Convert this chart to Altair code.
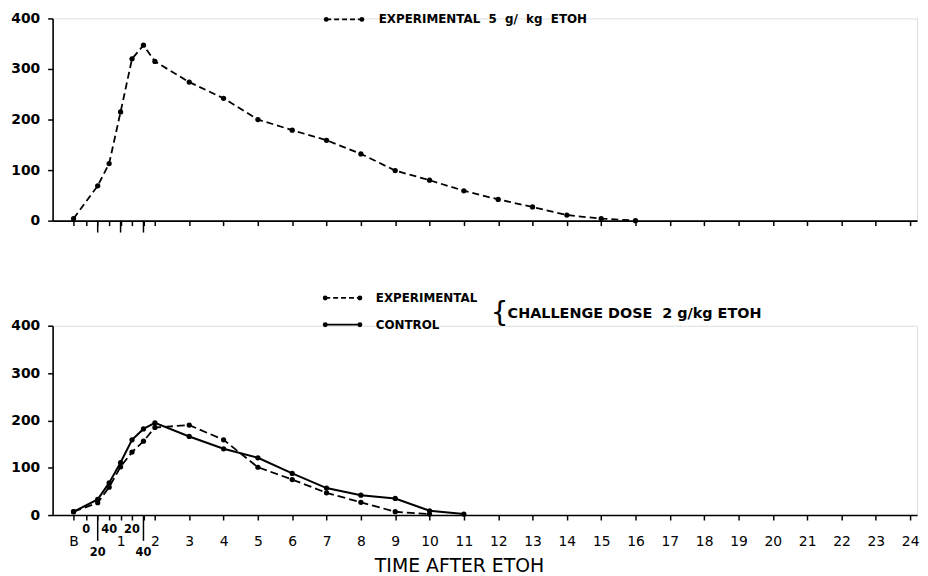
import altair as alt
import pandas as pd

B = -0.37  # baseline sample, drawn just before time 0 (hours)

# ---- top panel: experimental, 5 g/kg ETOH ----
top_time = [B, 1/3, 2/3, 1, 4/3, 5/3, 2, 3, 4, 5, 6, 7, 8, 9, 10, 11, 12, 13, 14, 15, 16]
top_value = [4, 69, 113, 215, 320, 347, 315, 274, 242, 200, 179, 159, 132, 99, 80, 59, 42, 27, 11, 4, 0]

# ---- bottom panel: challenge dose 2 g/kg ETOH ----
exp_time = [B, 1/3, 2/3, 1, 4/3, 5/3, 2, 3, 4, 5, 6, 7, 8, 9, 10]
exp_value = [7, 26, 59, 102, 133, 156, 185, 190, 159, 101, 75, 47, 27, 7, 2]
ctl_time = [B, 1/3, 2/3, 1, 4/3, 5/3, 2, 3, 4, 5, 6, 7, 8, 9, 10, 11]
ctl_value = [7, 33, 68, 111, 159, 182, 195, 166, 140, 121, 88, 57, 42, 35, 9, 2]

# ---- axis ticks ----
tick_values = [B, 0, 1/3, 2/3, 1, 4/3, 5/3] + list(range(2, 25))
tick_labels = ["B", "0", "20", "40", "1", "20", "40"] + [str(h) for h in range(2, 25)]
tick_level = ["mid", "up", "down", "up", "mid", "up", "down"] + ["mid"] * 23
long_ticks_top = [1/3, 1, 5/3]
long_ticks_bottom = [1/3, 5/3]
y_ticks = [0, 100, 200, 300, 400]

FONT = "DejaVu Sans"
W = 872
H_TOP = 204
H_BOT = 191

xscale = alt.Scale(domain=[-0.98, 24.2], nice=False, zero=False)
yscale = alt.Scale(domain=[0, 400], nice=False, zero=True)

mid_expr = " : ".join(
    f"abs(datum.value - ({v})) < 0.01 ? '{lab}'"
    for v, lab, lev in zip(tick_values, tick_labels, tick_level) if lev == "mid"
) + " : ''"

common_axis = dict(
    values=tick_values, grid=False, tickSize=5, tickColor="black", tickWidth=1.5,
    domainColor="black", domainWidth=1.6,
)

xaxis_top = alt.Axis(labels=False, title=None, **common_axis)
xaxis_bot = alt.Axis(
    labelExpr=mid_expr, labelFont=FONT, labelFontSize=14, labelColor="black",
    labelPadding=15, labelOverlap=False, labelFlush=False,
    title="TIME AFTER ETOH", titleFont=FONT, titleFontSize=19, titleFontWeight="normal",
    titleColor="black", titleX=410, titleY=57, titleBaseline="alphabetic", titleAlign="center",
    **common_axis,
)


def yaxis():
    return alt.Axis(values=y_ticks, title=None, grid=False, labelFont=FONT,
                    labelFontWeight="bold", labelFontSize=14, labelColor="black",
                    labelPadding=8, tickSize=5, tickColor="black", tickWidth=1.5,
                    domainColor="black", domainWidth=1.6)


def X(axis):
    return alt.X("t:Q", scale=xscale, axis=axis)


def Y():
    return alt.Y("v:Q", scale=yscale, axis=yaxis())


one = pd.DataFrame({"k": [0]})


def sample(x1, x2, y, dash=None):
    kw = {"strokeDash": dash} if dash else {}
    base = alt.Chart(one)
    rule = base.mark_rule(color="black", strokeWidth=1.8, **kw).encode(
        x=alt.value(x1), x2=alt.value(x2), y=alt.value(y))
    d1 = base.mark_circle(color="black", size=24, opacity=1).encode(x=alt.value(x1), y=alt.value(y))
    d2 = base.mark_circle(color="black", size=24, opacity=1).encode(x=alt.value(x2), y=alt.value(y))
    return [rule, d1, d2]


def label(text, x, y, size=12, weight="bold", align="left"):
    return alt.Chart(one).mark_text(
        text=text, font=FONT, fontSize=size, fontWeight=weight, align=align,
        baseline="middle", color="black").encode(x=alt.value(x), y=alt.value(y))


NB = "\u00a0"

# ---------- top ----------
df_top = pd.DataFrame({"t": top_time, "v": top_value})
top_line = alt.Chart(df_top).mark_line(color="black", strokeWidth=1.8, strokeDash=[7, 4]).encode(
    x=X(xaxis_top), y=Y())
top_pts = alt.Chart(df_top).mark_circle(color="black", size=28, opacity=1).encode(x=X(xaxis_top), y=Y())
top_long = alt.Chart(pd.DataFrame({"t": long_ticks_top})).mark_rule(color="black", strokeWidth=1.5).encode(
    x=X(xaxis_top), y=alt.value(H_TOP), y2=alt.value(H_TOP + 12))

top = alt.layer(
    top_line, top_pts, top_long,
    *sample(276, 312, 1, [5, 3]),
    label(f"EXPERIMENTAL{NB}{NB}5{NB} g/{NB} kg{NB} ETOH", 329, 1),
).properties(width=W, height=H_TOP)

# ---------- bottom ----------
df_exp = pd.DataFrame({"t": exp_time, "v": exp_value})
df_ctl = pd.DataFrame({"t": ctl_time, "v": ctl_value})
exp_line = alt.Chart(df_exp).mark_line(color="black", strokeWidth=1.8, strokeDash=[8, 4]).encode(
    x=X(xaxis_bot), y=Y())
exp_pts = alt.Chart(df_exp).mark_circle(color="black", size=28, opacity=1).encode(x=X(xaxis_bot), y=Y())
ctl_line = alt.Chart(df_ctl).mark_line(color="black", strokeWidth=2).encode(x=X(xaxis_bot), y=Y())
ctl_pts = alt.Chart(df_ctl).mark_circle(color="black", size=28, opacity=1).encode(x=X(xaxis_bot), y=Y())
bot_long = alt.Chart(pd.DataFrame({"t": long_ticks_bottom})).mark_rule(color="black", strokeWidth=1.5).encode(
    x=X(xaxis_bot), y=alt.value(H_BOT), y2=alt.value(H_BOT + 26))

df_up = pd.DataFrame({"t": [v for v, l in zip(tick_values, tick_level) if l == "up"],
                      "lab": [s for s, l in zip(tick_labels, tick_level) if l == "up"]})
df_down = pd.DataFrame({"t": [v for v, l in zip(tick_values, tick_level) if l == "down"],
                        "lab": [s for s, l in zip(tick_labels, tick_level) if l == "down"]})
up_txt = alt.Chart(df_up).mark_text(font=FONT, fontSize=11.5, fontWeight="bold", baseline="top",
                                    align="center", color="black").encode(
    x=X(xaxis_bot), y=alt.value(H_BOT + 9), text="lab:N")
down_txt = alt.Chart(df_down).mark_text(font=FONT, fontSize=11.5, fontWeight="bold", baseline="top",
                                        align="center", color="black").encode(
    x=X(xaxis_bot), y=alt.value(H_BOT + 32), text="lab:N")

bottom = alt.layer(
    ctl_line, exp_line, ctl_pts, exp_pts, bot_long, up_txt, down_txt,
    *sample(275, 310, -28, [5, 3]),
    *sample(275, 310, -1),
    label("EXPERIMENTAL", 326, -28),
    label("CONTROL", 326, -1),
    label("{", 451, -12, size=28, weight="normal", align="center"),
    label(f"CHALLENGE DOSE{NB}{NB}2 g/kg ETOH", 459, -12, size=14.5),
).properties(width=W, height=H_BOT)

chart = alt.vconcat(top, bottom, spacing=57).properties(
    padding={"left": 2, "top": 0, "right": 0, "bottom": 0}
).configure_view(stroke=None).configure(background="white")

chart.save("out.html", embed_options={"renderer": "svg", "actions": False})
